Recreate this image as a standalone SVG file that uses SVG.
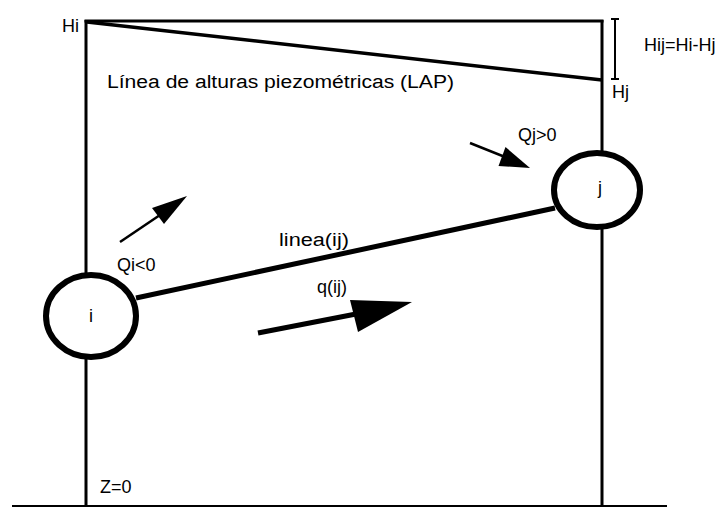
<svg xmlns="http://www.w3.org/2000/svg" width="722" height="507" viewBox="0 0 722 507">
<style>
.t{font-family:"Liberation Sans",Arial,sans-serif;font-size:18px;fill:#000}
.frame{stroke:#000;stroke-width:3;fill:none}
.node{fill:#fff;stroke:#000;stroke-width:6}
.ln{stroke:#000;fill:none}
</style>
<rect width="722" height="507" fill="#fff"/>
<g id="frame">
<line class="frame" x1="86" y1="20" x2="86" y2="506"/>
<line class="frame" x1="84.5" y1="21" x2="603.5" y2="21"/>
<line class="frame" x1="602" y1="20" x2="602" y2="506"/>
<line class="ln" x1="12" y1="506" x2="667" y2="506" stroke-width="2"/>
</g>
<g id="lap">
<line class="ln" x1="87" y1="22" x2="602" y2="80" stroke-width="3.5"/>
<text class="t" x="107" y="88" font-size="19" textLength="347" lengthAdjust="spacingAndGlyphs">Línea de alturas piezométricas (LAP)</text>
</g>
<g id="bracket">
<line class="ln" x1="615" y1="19" x2="615" y2="79" stroke-width="2"/>
<line class="ln" x1="611" y1="19" x2="619" y2="19" stroke-width="2"/>
<line class="ln" x1="611" y1="79" x2="619" y2="79" stroke-width="2"/>
</g>
<g id="connectors">
<line class="ln" x1="136" y1="298" x2="555" y2="208" stroke-width="5"/>
<line class="ln" x1="120" y1="242" x2="160" y2="215" stroke-width="2.5"/>
<polygon points="187,196 152,208 164,224" fill="#000"/>
<line class="ln" x1="470" y1="143" x2="505" y2="157" stroke-width="2.5"/>
<polygon points="530,168 505.5,147 498.5,166" fill="#000"/>
<line class="ln" x1="258" y1="333" x2="356" y2="314" stroke-width="5"/>
<polygon points="412,302 350,300 358,332" fill="#000"/>
</g>
<g id="node-i">
<ellipse class="node" cx="91" cy="316" rx="45" ry="41"/>
<text class="t" x="91" y="322" text-anchor="middle">i</text>
</g>
<g id="node-j">
<ellipse class="node" cx="597" cy="190" rx="43" ry="37"/>
<text class="t" x="600" y="194" text-anchor="middle">j</text>
</g>
<g id="labels">
<text class="t" x="62" y="32">Hi</text>
<text class="t" x="644" y="51">Hij=Hi-Hj</text>
<text class="t" x="612" y="98">Hj</text>
<text class="t" x="518" y="141">Qj&gt;0</text>
<text class="t" x="279" y="246" textLength="70" lengthAdjust="spacingAndGlyphs">linea(ij)</text>
<text class="t" x="117" y="271">Qi&lt;0</text>
<text class="t" x="317" y="293">q(ij)</text>
<text class="t" x="100" y="493">Z=0</text>
</g>
</svg>
